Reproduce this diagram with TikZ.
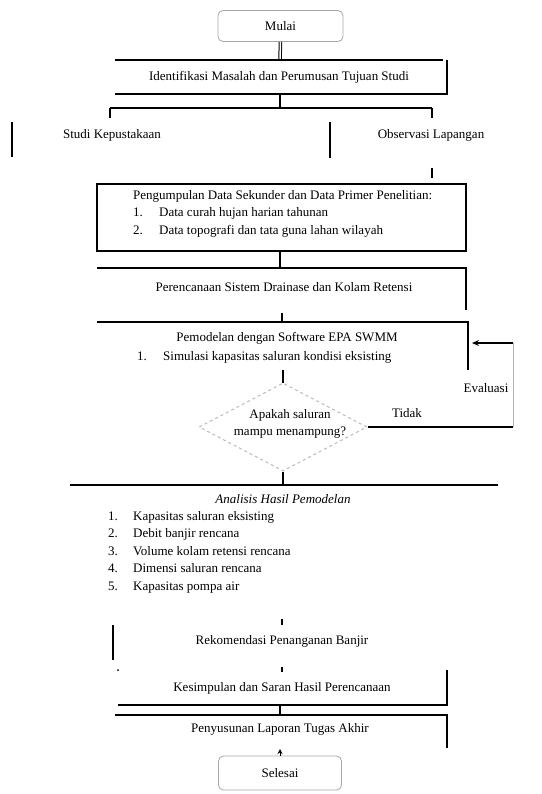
\documentclass[tikz,border=0pt]{standalone}
\usepackage{fontspec}
\setmainfont{Liberation Serif}
\usetikzlibrary{shapes.geometric,arrows.meta}
\begin{document}
\begin{tikzpicture}[x=1pt,y=-1pt,
  ln/.style={line width=1.3pt,black},
  txt/.style={font=\fontsize{13}{17.5}\selectfont,inner sep=0pt},
  lst/.style={txt,align=left,anchor=north west},
  term/.style={draw=gray!70,line width=0.8pt,rounded corners=5pt,minimum width=125pt,minimum height=31pt,txt}]
\useasboundingbox (0,0) rectangle (541,794);
% start
\node[term] (start) at (280.5,26) {Mulai};
\coordinate (b2top) at (280,60);
\draw[black,double,line width=1pt,double distance=1.5pt] (start.south) -- (b2top);
% box 2
\draw[ln] (115,60) -- (443,60);
\draw[ln] (447,60) -- (447,94) -- (115,94);
\node[txt] (ident) at (279,77) {Identifikasi Masalah dan Perumusan Tujuan Studi};
\coordinate (b2bot) at (280,94);
\coordinate (split) at (280,108);
\coordinate (sl) at (110,108);
\coordinate (sr) at (432,108);
\draw[ln] (b2bot) -- (split);
\draw[ln] (sl) -- (sr);
\draw[ln] (sl) -- (110,118);
\draw[ln] (sr) -- (432,118);
% studies
\draw[ln] (12,122) -- (12,157);
\node[txt] (pustaka) at (112,135) {Studi Kepustakaan};
\draw[ln] (330,122) -- (330,158);
\node[txt] (lapangan) at (431,135) {Observasi Lapangan};
\draw[ln] (432,168) -- (432,178);
% box 3
\node[draw,line width=1.3pt,minimum width=369pt,minimum height=67pt,inner sep=0pt] (data) at (281.5,217.5) {};
\node[lst] (datatxt) at (133,190) {Pengumpulan Data Sekunder dan Data Primer Penelitian:\\
\makebox[26pt][l]{1.}Data curah hujan harian tahunan\\
\makebox[26pt][l]{2.}Data topografi dan tata guna lahan wilayah};
\coordinate (planTop) at (280,268);
\draw[ln] (data.south -| planTop) -- (planTop);
\draw[ln] (97,268) -- (466,268) -- (466,310);
\node[txt] (plan) at (284,287) {Perencanaan Sistem Drainase dan Kolam Retensi};
% modelling
\draw[ln] (282,313) -- (282,321);
\draw[ln] (97,322) -- (468,322) -- (468,370);
\node[txt] (model) at (287,338) {Pemodelan dengan Software EPA SWMM};
\node[lst] (modelitem) at (137,351) {\makebox[26pt][l]{1.}Simulasi kapasitas saluran kondisi eksisting};
\coordinate (modelbot) at (283,370);
% decision
\node[draw=gray!55,dashed,line width=1pt,diamond,aspect=1.9,minimum width=168pt,minimum height=88pt,inner sep=0pt] (dec) at (283,427) {};
\node[txt,align=center] (dectxt) at (290,424) {Apakah saluran\\mampu menampung?};
\draw[ln] (modelbot) -- (dec.north);
\coordinate (c1) at (513,427);
\coordinate (c2) at (513,343);
\coordinate (c3) at (472,343);
\draw[ln] (dec.east) -- (c1);
\draw[line width=0.8pt,gray!60] (c1) -- (c2);
\draw[line width=1.2pt,-{Stealth[length=7pt,width=6pt]}] (c2) -- (c3);
\node[txt] (no) at (407,413) {Tidak};
\node[txt] (eval) at (486,388) {Evaluasi};
% analysis
\coordinate (anTop) at (283,485);
\draw[ln] (dec.south) -- (anTop);
\draw[ln] (70,485) -- (498,485);
\node[txt,font=\fontsize{13}{17.5}\selectfont\itshape] (an) at (283,499) {Analisis Hasil Pemodelan};
\node[lst] (anitems) at (108,511) {\makebox[25pt][l]{1.}Kapasitas saluran eksisting\\
\makebox[25pt][l]{2.}Debit banjir rencana\\
\makebox[25pt][l]{3.}Volume kolam retensi rencana\\
\makebox[25pt][l]{4.}Dimensi saluran rencana\\
\makebox[25pt][l]{5.}Kapasitas pompa air};
% recommendation
\draw[ln] (282,619) -- (282,625);
\draw[ln] (113,625) -- (113,660);
\node[txt] (rek) at (282,641) {Rekomendasi Penanganan Banjir};
\fill (118,670) circle (1pt);
\draw[ln] (282,667) -- (282,672);
\node[txt] (kes) at (282,688) {Kesimpulan dan Saran Hasil Perencanaan};
\draw[ln] (447,670) -- (447,705) -- (118,705);
\coordinate (kesbot) at (280,705);
\coordinate (lapTop) at (280,715);
\draw[ln] (kesbot) -- (lapTop);
\draw[ln] (115,715) -- (447,715) -- (447,748);
\node[txt] (lap) at (280,729) {Penyusunan Laporan Tugas Akhir};
% finish
\node[term,minimum width=123pt,minimum height=34pt] (finish) at (280,773) {Selesai};
\coordinate (up) at (280,749);
\draw[line width=0.8pt,-{Stealth[length=5pt,width=5pt]}] (finish.north) -- (up);
\end{tikzpicture}
\end{document}
